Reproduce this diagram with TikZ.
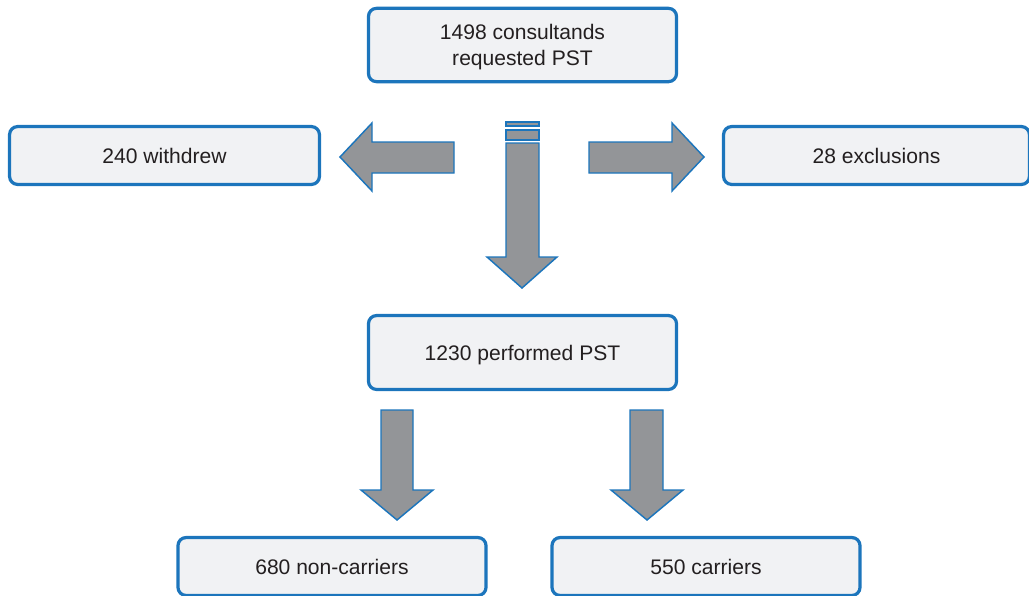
\documentclass[tikz,border=0pt]{standalone}
\usepackage{fontspec}
\setmainfont{Liberation Sans}
\definecolor{boxblue}{RGB}{28,117,188}
\definecolor{boxfill}{RGB}{241,242,244}
\definecolor{arrowgray}{RGB}{147,149,152}
\definecolor{txt}{RGB}{35,31,32}
\tikzset{
  box/.style={draw=boxblue, fill=boxfill, line width=2.4pt, rounded corners=6pt,
    minimum width=231pt, minimum height=43.4pt, align=center, text=txt,
    font=\fontsize{15.8pt}{19.4pt}\selectfont},
  tallbox/.style={box, minimum height=55pt, text depth=0pt},
  blockarrow/.style={draw=boxblue, fill=arrowgray, line width=1.1pt, line join=miter}
}

\begin{document}
\begin{tikzpicture}[x=0.75pt, y=-0.75pt]
\useasboundingbox (0,0) rectangle (1029,596);
% boxes
\node[tallbox] (requested) at (522.5,45) {1498 consultands\\requested PST};
\node[box, minimum width=232.4pt] (withdrew) at (164.5,155.5) {240 withdrew};
\node[box, minimum width=229.4pt] (excluded) at (876.5,155.5) {28 exclusions};
\node[tallbox, minimum height=55.4pt] (performed) at (522.5,352.5) {1230 performed PST};
\node[box] (noncarriers) at (332,566.5) {680 non-carriers};
\node[box] (carriers) at (706,566.5) {550 carriers};
% arrows to the sides
\draw[blockarrow] (454,142) -- (372,142) -- (372,123) -- (340,157) -- (372,191) -- (372,173) -- (454,173) -- cycle;
\draw[blockarrow] (589,142) -- (672,142) -- (672,123) -- (704,157) -- (672,191) -- (672,173) -- (589,173) -- cycle;
% arrow down to performed PST
\draw[blockarrow] (506,122) rectangle (539,126);
\draw[blockarrow] (506,130) rectangle (539,140);
\draw[blockarrow] (506,143) -- (539,143) -- (539,257) -- (557,257) -- (522,288) -- (487,257) -- (506,257) -- cycle;
% arrows to the results
\draw[blockarrow] (381,410) -- (413,410) -- (413,490) -- (433,490) -- (397,520) -- (361,490) -- (381,490) -- cycle;
\draw[blockarrow] (630,410) -- (663,410) -- (663,490) -- (683,490) -- (647,520) -- (611,490) -- (630,490) -- cycle;
\end{tikzpicture}
\end{document}
